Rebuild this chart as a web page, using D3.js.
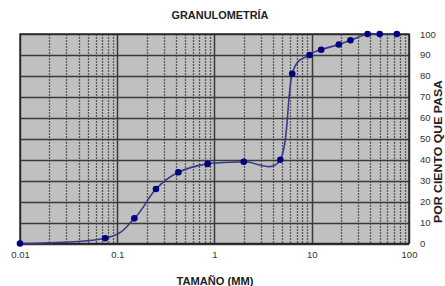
<!DOCTYPE html>
<html><head><meta charset="utf-8">
<script src="https://cdn.jsdelivr.net/npm/d3@7"></script>
<style>
html,body{margin:0;padding:0;background:#fff;}
svg{display:block;font-family:"Liberation Sans",Arial,sans-serif;}
</style></head>
<body>
<svg id="c" width="445" height="286"></svg>
<script>
const sizes = [0.01, 0.075, 0.15, 0.25, 0.425, 0.85, 2.0, 4.75, 6.3, 9.5, 12.5, 19, 25, 37.5, 50, 75];
const passing = [0, 2.5, 12, 26, 34, 38, 39, 40, 81, 90, 92.5, 95, 97, 100, 100, 100];
const xTickLabels = ["0.01", "0.1", "1", "10", "100"];
const yTickLabels = [0, 10, 20, 30, 40, 50, 60, 70, 80, 90, 100];
const title = "GRANULOMETRÍA";
const xTitle = "TAMAÑO (MM)";
const yTitle = "POR CIENTO QUE PASA";

const svg = d3.select("#c");
const m = {l: 20, r: 409, t: 34, b: 243.5};
const x = d3.scaleLog().domain([0.01, 100]).range([m.l, m.r]);
const y = d3.scaleLinear().domain([0, 100]).range([m.b, m.t]);

svg.append("rect").attr("x", m.l).attr("y", m.t)
  .attr("width", m.r - m.l).attr("height", m.b - m.t).attr("fill", "#c0c0c0");

// minor vertical grid
const minors = [];
for (let d = 0.01; d < 100; d *= 10) for (let k = 2; k <= 9; k++) minors.push(d * k);
svg.append("g").selectAll("line").data(minors).join("line")
  .attr("x1", d => Math.round(x(d)) + 0.5).attr("x2", d => Math.round(x(d)) + 0.5)
  .attr("y1", m.t).attr("y2", m.b)
  .attr("stroke", "#5a5a5a").attr("stroke-width", 1.3).attr("stroke-dasharray", "2,1");

// major vertical grid
svg.append("g").selectAll("line").data(xTickLabels.map(Number)).join("line")
  .attr("x1", d => Math.round(x(d)) + 0.5).attr("x2", d => Math.round(x(d)) + 0.5)
  .attr("y1", m.t).attr("y2", m.b).attr("stroke", "#3a3a3a").attr("stroke-width", 1.5);

// horizontal grid
svg.append("g").selectAll("line").data(yTickLabels).join("line")
  .attr("x1", m.l).attr("x2", m.r)
  .attr("y1", d => Math.round(y(d)) + 0.5).attr("y2", d => Math.round(y(d)) + 0.5)
  .attr("stroke", "#3a3a3a").attr("stroke-width", 1.5);

svg.append("rect").attr("x", m.l).attr("y", m.t)
  .attr("width", m.r - m.l).attr("height", m.b - m.t)
  .attr("fill", "none").attr("stroke", "#222").attr("stroke-width", 1.4);

// axes labels via d3 axes
const xAxis = d3.axisBottom(x).tickValues(xTickLabels.map(Number))
  .tickFormat((d, i) => xTickLabels[i]).tickSize(0).tickPadding(8);
svg.append("g").attr("transform", `translate(0,${m.b})`).call(xAxis)
  .call(g => g.select(".domain").remove())
  .selectAll("text").attr("font-size", "9.5px").attr("fill", "#333")
  .attr("font-family", "Liberation Sans, Arial, sans-serif");

const yAxis = d3.axisRight(y).tickValues(yTickLabels).tickSize(0).tickPadding(11);
svg.append("g").attr("transform", `translate(${m.r},0)`).call(yAxis)
  .call(g => g.select(".domain").remove())
  .selectAll("text").attr("font-size", "9.5px").attr("fill", "#333")
  .attr("font-family", "Liberation Sans, Arial, sans-serif");

// curve
const pts = sizes.map((s, i) => [s, passing[i]]);
const line = d3.line().x(d => x(d[0])).y(d => y(d[1])).curve(d3.curveCardinal.tension(0));
svg.append("path").datum(pts).attr("d", line)
  .attr("fill", "none").attr("stroke", "#3a3a8c").attr("stroke-width", 1.6);
svg.append("g").selectAll("circle").data(pts).join("circle")
  .attr("cx", d => x(d[0])).attr("cy", d => y(d[1])).attr("r", 3.3)
  .attr("fill", "#000080");

// titles
svg.append("text").attr("x", 220).attr("y", 19).attr("text-anchor", "middle")
  .attr("font-size", "10.5px").attr("font-weight", "bold").attr("fill", "#222")
  .attr("textLength", 97).attr("lengthAdjust", "spacingAndGlyphs").text(title);
svg.append("text").attr("x", 215).attr("y", 285).attr("text-anchor", "middle")
  .attr("font-size", "10.5px").attr("font-weight", "bold").attr("fill", "#222")
  .attr("textLength", 77).attr("lengthAdjust", "spacingAndGlyphs").text(xTitle);
svg.append("text").attr("transform", "translate(441.5,151.5) rotate(-90)").attr("text-anchor", "middle")
  .attr("font-size", "11px").attr("font-weight", "bold").attr("fill", "#222")
  .attr("textLength", 143).attr("lengthAdjust", "spacingAndGlyphs").text(yTitle);
</script>
</body></html>
